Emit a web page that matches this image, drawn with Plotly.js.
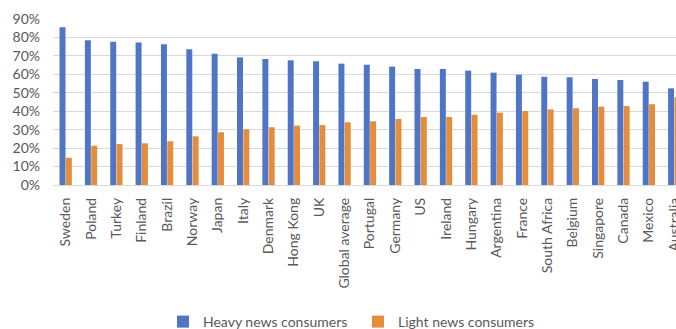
<!DOCTYPE html>
<html>
<head>
<meta charset="utf-8">
<script src="https://cdn.plot.ly/plotly-3.0.1.min.js"></script>
<style>
html,body{margin:0;padding:0;background:#fff;overflow:hidden;}
#chart{width:676px;height:329px;}
</style>
</head>
<body>
<div id="chart"></div>
<script>
var countries = ["Sweden","Poland","Turkey","Finland","Brazil","Norway","Japan","Italy","Denmark","Hong Kong","UK","Global average","Portugal","Germany","US","Ireland","Hungary","Argentina","France","South Africa","Belgium","Singapore","Canada","Mexico","Australia"];
var heavyConsumers = [0.855,0.785,0.777,0.772,0.763,0.736,0.712,0.692,0.683,0.676,0.671,0.658,0.652,0.642,0.629,0.629,0.620,0.609,0.598,0.587,0.584,0.575,0.569,0.560,0.524];
var lightConsumers = [0.148,0.213,0.222,0.226,0.237,0.264,0.286,0.302,0.313,0.322,0.325,0.340,0.345,0.358,0.369,0.369,0.381,0.392,0.401,0.410,0.416,0.425,0.428,0.438,0.476];
var seriesNames = ["Heavy news consumers","Light news consumers"];

var fontFam = "Lato, 'Open Sans', sans-serif";
var data = [
  {type:"bar", name:seriesNames[0], x:countries, y:heavyConsumers, marker:{color:"#5074C6"}},
  {type:"bar", name:seriesNames[1], x:countries, y:lightConsumers, marker:{color:"#E38D3D"}}
];
var layout = {
  width:676, height:329,
  margin:{l:53, r:0, t:19, b:144, pad:0, autoexpand:false},
  paper_bgcolor:"#fff", plot_bgcolor:"#fff",
  font:{family:fontFam, size:14, color:"#595959"},
  barmode:"group", bargap:0.5, bargroupgap:0.06,
  showlegend:true,
  legend:{orientation:"h", xref:"container", yref:"container", x:163/676, xanchor:"left", y:1-306/329, yanchor:"top",
          font:{family:fontFam, size:14, color:"#595959"}, entrywidth:150, entrywidthmode:"pixels"},
  xaxis:{type:"category", range:[-0.5, 24.07], tickangle:-90, showgrid:false, showline:false, automargin:false,
         ticks:"", ticklabelstandoff:9, tickfont:{family:fontFam, size:14, color:"#595959"}},
  yaxis:{range:[0,0.9], dtick:0.1, tickformat:".0%", showgrid:true, gridcolor:"#d9d9d9", gridwidth:1, automargin:false,
         zeroline:true, zerolinecolor:"#d9d9d9", zerolinewidth:1, showline:false, ticks:"",
         ticklabelstandoff:12, tickfont:{family:fontFam, size:14, color:"#595959"}}
};
Plotly.newPlot("chart", data, layout, {displayModeBar:false, staticPlot:true});
</script>
</body>
</html>
